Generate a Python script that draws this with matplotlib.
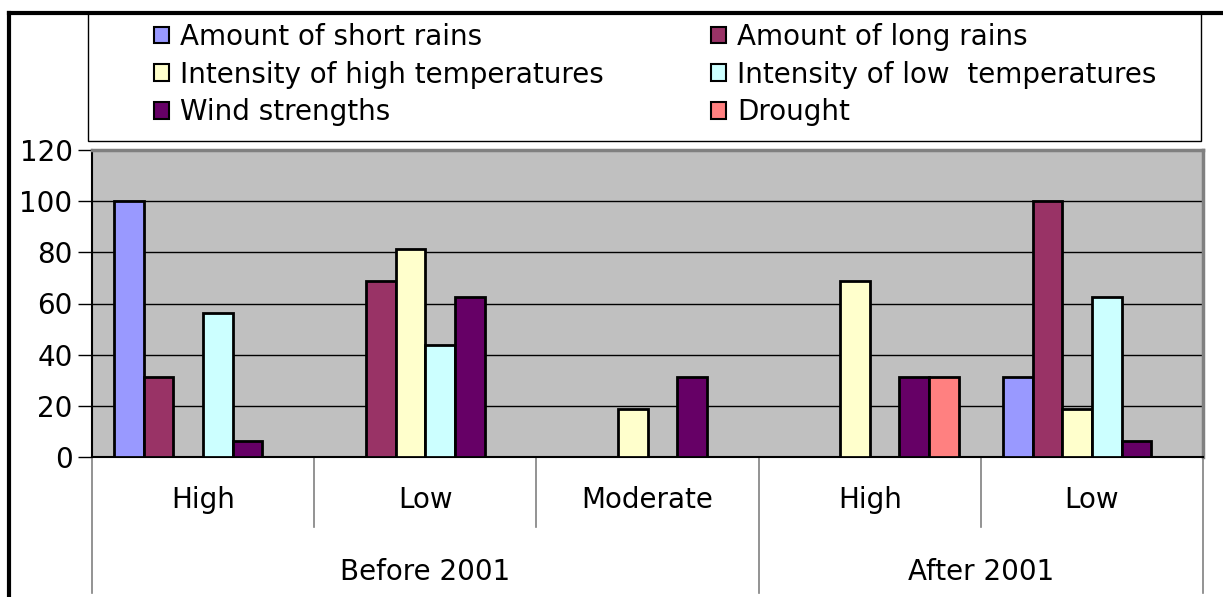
import matplotlib.pyplot as plt
import numpy as np
from matplotlib.patches import Patch, Rectangle
import matplotlib.transforms as mtransforms

# data
levels = ['High', 'Low', 'Moderate', 'High', 'Low']
periods = ['Before 2001', 'After 2001']
series = ['Amount of short rains', 'Amount of long rains',
          'Intensity of high temperatures', 'Intensity of low  temperatures',
          'Wind strengths', 'Drought']
short_rains = [100, 0, 0, 0, 31.25]
long_rains = [31.25, 68.75, 0, 0, 100]
high_temp = [0, 81.25, 18.75, 68.75, 18.75]
low_temp = [56.25, 43.75, 0, 0, 62.5]
wind = [6.25, 62.5, 31.25, 31.25, 6.25]
drought = [0, 0, 0, 31.25, 0]
values = [short_rains, long_rains, high_temp, low_temp, wind, drought]
colors = ['#9999FF', '#993366', '#FFFFCC', '#CCFFFF', '#660066', '#FF8080']

FS = 20
W, H = 1223, 597
fig = plt.figure(figsize=(W / 100, H / 100), dpi=100)
ax = fig.add_axes([92 / W, 1 - 457 / H, (1203 - 92) / W, (457 - 150) / H])

x = np.arange(len(levels))
w = 1 / 7.5
for i, (vals, c) in enumerate(zip(values, colors)):
    ax.bar(x + (i - 2.5) * w, vals, w, color=c, edgecolor='black', linewidth=2,
           zorder=3, label=series[i])

ax.set_facecolor('#C0C0C0')
ax.set_xlim(-0.5, len(levels) - 0.5)
ax.set_ylim(0, 120)
ax.set_yticks(range(0, 121, 20))
ax.yaxis.grid(True, color='black', linewidth=1, zorder=1)
ax.set_axisbelow(True)
ax.tick_params(axis='y', length=10, width=1, labelsize=FS, pad=4)
ax.set_xticks([])
for s in ['top', 'right']:
    ax.spines[s].set_color('#808080')
    ax.spines[s].set_linewidth(2.5)
ax.spines['left'].set_linewidth(1.5)
ax.spines['bottom'].set_linewidth(1.5)

# two level category axis
tr = mtransforms.blended_transform_factory(ax.transData, ax.transAxes)
low_y = -(593 - 457) / (457 - 150)
mid_y = -(527 - 457) / (457 - 150)
for b in [0.5, 1.5, 3.5]:
    ax.plot([b, b], [0, mid_y], color='#808080', lw=1.2, transform=tr, clip_on=False)
for b in [-0.5, 2.5, 4.5]:
    ax.plot([b, b], [0, low_y], color='#808080', lw=1.2, transform=tr, clip_on=False)
for xi, lab in zip(x, levels):
    ax.text(xi, -(500 - 457) / 307, lab, transform=tr, ha='center', va='center', fontsize=FS)
ax.text(1.0, -(572 - 457) / 307, periods[0], transform=tr, ha='center', va='center', fontsize=FS)
ax.text(3.5, -(572 - 457) / 307, periods[1], transform=tr, ha='center', va='center', fontsize=FS)

# legend box
fig.patches.append(Rectangle((88 / W, 1 - 141 / H), (1201 - 88) / W, (141 - 13) / H,
                             transform=fig.transFigure, facecolor='white',
                             edgecolor='black', lw=1, zorder=0))
handles = [Patch(facecolor=c, edgecolor='black', lw=1.5) for c in colors]
leg_kw = dict(frameon=False, fontsize=FS, handlelength=0.55, handleheight=0.55,
              handletextpad=0.4, labelspacing=0.35, borderpad=0, loc='upper left')
fig.legend([handles[0], handles[2], handles[4]], [series[0], series[2], series[4]],
           bbox_to_anchor=(140 / W, 1 - 9 / H), **leg_kw)
fig.legend([handles[1], handles[3], handles[5]], [series[1], series[3], series[5]],
           bbox_to_anchor=(697 / W, 1 - 9 / H), **leg_kw)

# outer chart border
fig.add_artist(plt.Line2D([9 / W, 9 / W], [0, 1 - 13 / H], color='black', lw=3,
                          transform=fig.transFigure))
fig.add_artist(plt.Line2D([9 / W, 1], [1 - 13 / H, 1 - 13 / H], color='black', lw=3,
                          transform=fig.transFigure))

fig.savefig('out.png', dpi=100)
